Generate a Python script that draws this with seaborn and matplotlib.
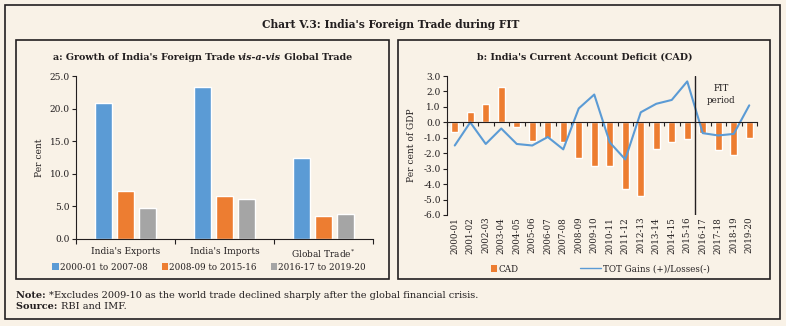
import numpy as np
import pandas as pd
import matplotlib
matplotlib.use("Agg")
import matplotlib.pyplot as plt
from matplotlib.patches import Rectangle, Patch
from matplotlib.lines import Line2D
import seaborn as sns

# ---- data -------------------------------------------------------------
trade_categories = ["India's Exports", "India's Imports", "Global Trade*"]
periods = ["2000-01 to 2007-08", "2008-09 to 2015-16", "2016-17 to 2019-20"]
growth_2000_08 = [20.8, 23.3, 12.5]
growth_2008_16 = [7.3, 6.6, 3.5]
growth_2016_20 = [4.7, 6.1, 3.8]

years = ["2000-01", "2001-02", "2002-03", "2003-04", "2004-05", "2005-06",
         "2006-07", "2007-08", "2008-09", "2009-10", "2010-11", "2011-12",
         "2012-13", "2013-14", "2014-15", "2015-16", "2016-17", "2017-18",
         "2018-19", "2019-20"]
cad = [-0.6, 0.7, 1.2, 2.3, -0.3, -1.2, -1.0, -1.3, -2.3, -2.8, -2.8, -4.3,
       -4.8, -1.7, -1.3, -1.1, -0.7, -1.8, -2.1, -1.0]
tot_gains = [-1.5, 0.0, -1.4, -0.4, -1.4, -1.5, -0.95, -1.75, 0.9, 1.8, -1.3,
             -2.4, 0.65, 1.2, 1.45, 2.65, -0.7, -0.85, -0.75, 1.1]
fit_start = "2016-17"

# ---- style ------------------------------------------------------------
BG = "#f9f2e7"
INK = "#231f20"
BLUE, ORANGE, GREY = "#5b9bd5", "#ed7d31", "#a5a5a5"

sns.set_theme(style="white")
plt.rcParams["font.family"] = ["DejaVu Serif"]
plt.rcParams["axes.unicode_minus"] = False
plt.rcParams["text.color"] = INK
plt.rcParams["axes.labelcolor"] = INK
plt.rcParams["xtick.color"] = INK
plt.rcParams["ytick.color"] = INK

W, H = 786, 326
fig = plt.figure(figsize=(W / 100, H / 100), dpi=100, facecolor=BG)


def fx(px):
    return px / W


def fy(py):
    return 1 - py / H


# full-figure overlay for frames and free text
bg = fig.add_axes([0, 0, 1, 1], zorder=-5)
bg.set_xlim(0, W)
bg.set_ylim(H, 0)
bg.axis("off")
bg.patch.set_alpha(0)


def frame(x0, y0, x1, y1, lw=1.2):
    bg.add_patch(Rectangle((x0, y0), x1 - x0, y1 - y0, fill=False,
                           edgecolor=INK, lw=lw))


frame(5, 5, 780, 319)
frame(16, 40, 389, 279)
frame(398, 40, 770, 279)


def run_text(x, y, parts, size, ha_center=False):
    """Draw consecutive text runs with individual styles on one baseline."""
    first, style = parts[0]
    t = bg.text(x, y, first, fontsize=size, va="baseline", ha="left", **style)
    items = [t]
    for s, st in parts[1:]:
        t = bg.annotate(s, xy=(1, 0), xycoords=t, va="bottom", ha="left",
                        fontsize=size, **st)
        items.append(t)
    if ha_center:
        fig.canvas.draw()
        r = fig.canvas.get_renderer()
        x0 = items[0].get_window_extent(r).x0
        x1 = items[-1].get_window_extent(r).x1
        shift = (x1 - x0) / 2
        items[0].set_x(x - shift)
    return items


B = {"fontweight": "bold"}
BI = {"fontweight": "bold", "fontstyle": "italic"}
R = {}

bg.text(W / 2 - 2, 24, "Chart V.3: India's Foreign Trade during FIT", ha="center",
        va="center", fontsize=7.7, fontweight="bold")

run_text(202.5, 60, [("a: Growth of India's Foreign Trade ", B), ("vis-a-vis", BI),
                     (" Global Trade", B)], 6.8, ha_center=True)
bg.text(585, 57, "b: India's Current Account Deficit (CAD)", ha="center",
        va="center", fontsize=6.8, fontweight="bold")

run_text(16, 298, [("Note: ", B), ("*", R),
                   ("Excludes 2009-10 as the world trade declined sharply after "
                    "the global financial crisis.", R)], 7.0)
run_text(16, 309, [("Source: ", B), ("RBI and IMF.", R)], 7.0)

# ---- panel a: grouped bars -------------------------------------------
df_a = pd.DataFrame({
    "category": trade_categories * 3,
    "period": [periods[0]] * 3 + [periods[1]] * 3 + [periods[2]] * 3,
    "value": growth_2000_08 + growth_2008_16 + growth_2016_20,
})
ax1 = fig.add_axes([fx(76), fy(239), fx(373 - 76), (239 - 76) / H])
ax1.set_facecolor("none")
sns.barplot(data=df_a, x="category", y="value", hue="period",
            palette=[BLUE, ORANGE, GREY], width=0.66, gap=0.2,
            ax=ax1, legend=False, saturation=1)
ax1.set_xlim(-0.5, 2.5)
ax1.set_ylim(0, 25)
ax1.set_yticks(np.arange(0, 25.1, 5))
ax1.set_yticklabels([f"{v:.1f}" for v in np.arange(0, 25.1, 5)])
ax1.set_xticks(range(3))
ax1.set_xticklabels(["India's Exports", "India's Imports", "Global Trade$^{*}$"])
ax1.set_xticks(np.arange(-0.5, 2.6, 1), minor=True)
ax1.tick_params(axis="x", which="major", length=0, pad=6, labelsize=6.5)
ax1.tick_params(axis="x", which="minor", length=3.5, width=0.8, direction="out",
                bottom=True)
ax1.tick_params(axis="y", length=3, width=0.8, direction="out", left=True,
                pad=1.5, labelsize=6.5)
for s in ["top", "right"]:
    ax1.spines[s].set_visible(False)
for s in ["left", "bottom"]:
    ax1.spines[s].set_color(INK)
    ax1.spines[s].set_linewidth(0.8)
ax1.set_xlabel("")
ax1.set_ylabel("Per cent", fontsize=6.5, labelpad=4)

handles_a = [Patch(facecolor=c, edgecolor="none") for c in [BLUE, ORANGE, GREY]]
fig.legend(handles_a, periods, loc="center", bbox_to_anchor=(fx(209), fy(267)),
           ncol=3, frameon=False, fontsize=6.3, handlelength=0.7,
           handleheight=0.7, handletextpad=0.15, columnspacing=1.6,
           borderaxespad=0)

# ---- panel b: CAD bars + TOT line ------------------------------------
df_b = pd.DataFrame({"year": years, "cad": cad, "tot": tot_gains,
                     "pos": np.arange(len(years))})
ax2 = fig.add_axes([fx(447), fy(215), fx(757 - 447), (215 - 76) / H])
ax2.set_facecolor("none")
sns.barplot(data=df_b, x="year", y="cad", color=ORANGE, width=0.42,
            saturation=1, ax=ax2)
sns.lineplot(data=df_b, x="pos", y="tot", color=BLUE, lw=1.5, ax=ax2)
ax2.set_xlim(-0.5, len(years) - 0.5)
ax2.set_ylim(-6, 3)
ax2.set_yticks(np.arange(-6, 3.1, 1))
ax2.set_yticklabels([f"{v:.1f}" for v in np.arange(-6, 3.1, 1)])
ax2.set_xticks(range(len(years)))
ax2.set_xticklabels(years)
ax2.set_xticks(np.arange(-0.5, len(years), 1), minor=True)
ax2.spines["bottom"].set_position(("data", 0))
ax2.tick_params(axis="x", which="major", length=0, pad=68, labelsize=6.3,
                labelrotation=90)
ax2.tick_params(axis="x", which="minor", length=3, width=0.8, direction="out",
                bottom=True)
ax2.tick_params(axis="y", length=3, width=0.8, direction="out", left=True,
                pad=1.5, labelsize=6.5)
for s in ["top", "right"]:
    ax2.spines[s].set_visible(False)
for s in ["left", "bottom"]:
    ax2.spines[s].set_color(INK)
    ax2.spines[s].set_linewidth(0.8)
fit_x = years.index(fit_start) - 0.5
ax2.plot([fit_x, fit_x], [-6, 3], color=INK, lw=1)
ax2.text(fit_x + 1.7, 1.8, "FIT\nperiod", ha="center", va="center",
         fontsize=6.3, linespacing=1.3)
ax2.set_xlabel("")
ax2.set_ylabel("Per cent of GDP", fontsize=6.5, labelpad=5)

fig.legend([Patch(facecolor=ORANGE, edgecolor="none")], ["CAD"], loc="center",
           bbox_to_anchor=(fx(505), fy(269)), frameon=False, fontsize=6.3,
           handlelength=0.7, handleheight=0.7, handletextpad=0.15,
           borderaxespad=0)
fig.legend([Line2D([], [], color=BLUE, lw=1)], ["TOT Gains (+)/Losses(-)"],
           loc="center", bbox_to_anchor=(fx(645), fy(269)), frameon=False,
           fontsize=6.3, handlelength=2.4, handletextpad=0.15, borderaxespad=0)

fig.savefig("out.png", dpi=100, facecolor=BG)
